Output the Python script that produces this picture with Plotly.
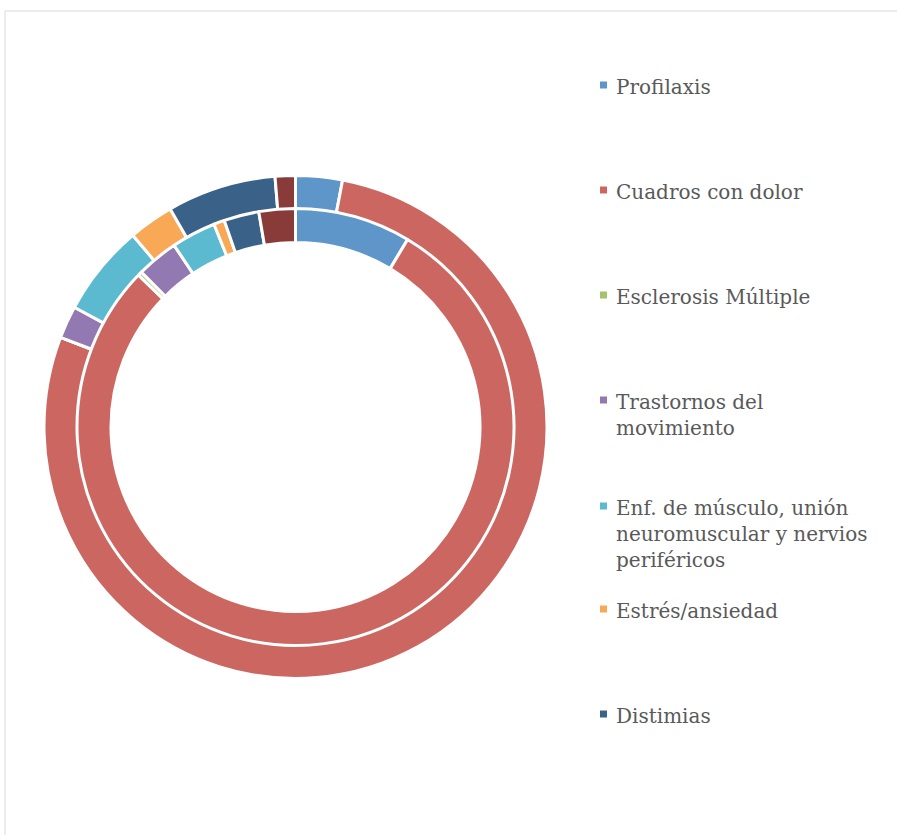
import plotly.graph_objects as go

W, H = 897, 835

labels = ["Profilaxis", "Cuadros con dolor", "Esclerosis Múltiple",
          "Trastornos del movimiento",
          "Enf. de músculo, unión neuromuscular y nervios periféricos",
          "Estrés/ansiedad", "Distimias", "Otros"]
legend_text = ["Profilaxis", "Cuadros con dolor", "Esclerosis Múltiple",
               "Trastornos del<br>movimiento",
               "Enf. de músculo, unión<br>neuromuscular y nervios<br>periféricos",
               "Estrés/ansiedad", "Distimias"]
outer_values = [3.0, 77.8, 0.0, 2.1, 5.9, 2.9, 7.0, 1.3]
inner_values = [8.6, 78.9, 0.3, 3.1, 3.3, 0.8, 2.6, 2.7]
colors = ["#5F96CA", "#CC6660", "#A5C36A", "#9279B2", "#5BB9D0",
          "#F9A856", "#3A6188", "#893B39"]

cx, cy = 295.5, 427.0          # pixel centre (from top-left)
r_out, h_out = 251.5, 217.5
r_in, h_in = 218.5, 184.5


def dom(r):
    return dict(x=[(cx - r) / W, (cx + r) / W],
                y=[(H - cy - r) / H, (H - cy + r) / H])


fig = go.Figure()
fig.add_trace(go.Pie(labels=labels, values=outer_values, hole=h_out / r_out,
                     domain=dom(r_out), sort=False, direction="clockwise",
                     rotation=0, textinfo="none", showlegend=False,
                     marker=dict(colors=colors, line=dict(color="white", width=3))))
fig.add_trace(go.Pie(labels=labels, values=inner_values, hole=h_in / r_in,
                     domain=dom(r_in), sort=False, direction="clockwise",
                     rotation=0, textinfo="none", showlegend=False,
                     marker=dict(colors=colors, line=dict(color="white", width=3))))

# manual legend
leg_y = [87, 192, 297, 402, 508, 611, 716]
shapes = []
annotations = []
for txt, col, y in zip(legend_text, colors, leg_y):
    shapes.append(dict(type="rect", xref="paper", yref="paper",
                       x0=600 / W, x1=607 / W,
                       y0=1 - (y - 5.5) / H, y1=1 - (y + 1.5) / H,
                       fillcolor=col, line=dict(width=0)))
    annotations.append(dict(text=txt, xref="paper", yref="paper",
                            x=614 / W, y=1 - (y - 14) / H,
                            xanchor="left", yanchor="top", align="left",
                            showarrow=False,
                            font=dict(family="DejaVu Serif", size=20, color="#595959")))

# chart border (left and top)
shapes.append(dict(type="line", xref="paper", yref="paper",
                   x0=5 / W, x1=5 / W, y0=0, y1=1 - 11 / H,
                   line=dict(color="#D9D9D9", width=1)))
shapes.append(dict(type="line", xref="paper", yref="paper",
                   x0=5 / W, x1=1, y0=1 - 11 / H, y1=1 - 11 / H,
                   line=dict(color="#D9D9D9", width=1)))

fig.update_layout(width=W, height=H, margin=dict(l=0, r=0, t=0, b=0),
                  paper_bgcolor="white", plot_bgcolor="white",
                  shapes=shapes, annotations=annotations)

fig.write_html("out.html", config={"displayModeBar": False})
